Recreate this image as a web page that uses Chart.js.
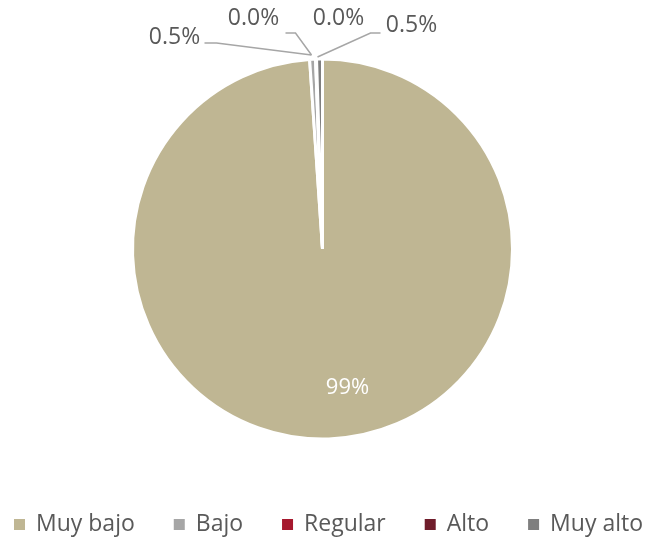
<!DOCTYPE html>
<html>
<head>
<meta charset="utf-8">
<script src="https://cdn.jsdelivr.net/npm/chart.js@4/dist/chart.umd.min.js"></script>
<style>
html,body{margin:0;padding:0;background:#fff;}
#wrap{width:645px;height:541px;position:relative;}
</style>
</head>
<body>
<div id="wrap"><canvas id="c" width="645" height="541"></canvas></div>
<script>
const categories = ["Muy bajo", "Bajo", "Regular", "Alto", "Muy alto"];
const values = [98.94, 0.5, 0.04, 0.04, 0.5];
const colors = ["#BFB693", "#A6A6A6", "#A6192E", "#6F1D2B", "#7F7F7F"];

const FONT = "'Open Sans', sans-serif";

const labelPlugin = {
  id: 'pieLabels',
  afterDatasetsDraw(chart) {
    const ctx = chart.ctx;
    const meta = chart.getDatasetMeta(0);
    const ds = chart.data.datasets[0];
    const arc0 = meta.data[0];
    const cx = arc0.x, cy = arc0.y;
    ctx.save();
    ctx.textBaseline = 'middle';
    ctx.font = "22px " + FONT;
    ctx.fillStyle = '#FFFFFF';
    ctx.textAlign = 'center';
    ctx.fillText(Math.round(ds.data[0]) + '%', cx + 25, cy + 139);

    ctx.font = "23px " + FONT;
    const outside = [
      null,
      {lx: -148, ly: -212, line: [[-118, -206], [-106, -206], [-11, -194]]},
      {lx: -69, ly: -231, line: [[-37, -216], [-27, -216], [-11, -194]]},
      {lx: 16, ly: -231, line: null},
      {lx: 89, ly: -224, line: [[-5, -192], [48, -216], [58, -216]]}
    ];
    for (let i = 1; i < ds.data.length; i++) {
      const o = outside[i];
      if (o.line) {
        ctx.strokeStyle = '#A6A6A6';
        ctx.lineWidth = 1.5;
        ctx.beginPath();
        o.line.forEach((p, k) => {
          const x = cx + p[0], y = cy + p[1];
          if (k === 0) ctx.moveTo(x, y); else ctx.lineTo(x, y);
        });
        ctx.stroke();
      }
      ctx.fillStyle = '#595959';
      ctx.textAlign = 'center';
      ctx.fillText(ds.data[i].toFixed(1) + '%', cx + o.lx, cy + o.ly);
    }

    // legend
    ctx.font = "23px " + FONT;
    ctx.textAlign = 'left';
    const names = chart.data.labels;
    const widths = names.map(n => ctx.measureText(n).width);
    const box = 11, gapBT = 11;
    const left = 14, right = 643;
    const itemsW = widths.reduce((a, w) => a + box + gapBT + w, 0);
    const gap = (right - left - itemsW) / (names.length - 1);
    let x = left;
    const ly = 524;
    names.forEach((n, i) => {
      ctx.fillStyle = ds.backgroundColor[i];
      ctx.fillRect(x, ly - 5, box, box);
      ctx.fillStyle = '#595959';
      ctx.fillText(n, x + box + gapBT, ly);
      x += box + gapBT + widths[i] + gap;
    });
    ctx.restore();
  }
};

new Chart(document.getElementById('c'), {
  type: 'pie',
  data: {
    labels: categories,
    datasets: [{
      data: values,
      backgroundColor: colors,
      borderColor: '#FFFFFF',
      borderWidth: 3
    }]
  },
  options: {
    responsive: false,
    animation: false,
    radius: 190,
    layout: {padding: {top: 0, bottom: 43}},
    plugins: {
      tooltip: {enabled: false},
      legend: {display: false}
    }
  },
  plugins: [labelPlugin]
});
</script>
</body>
</html>
